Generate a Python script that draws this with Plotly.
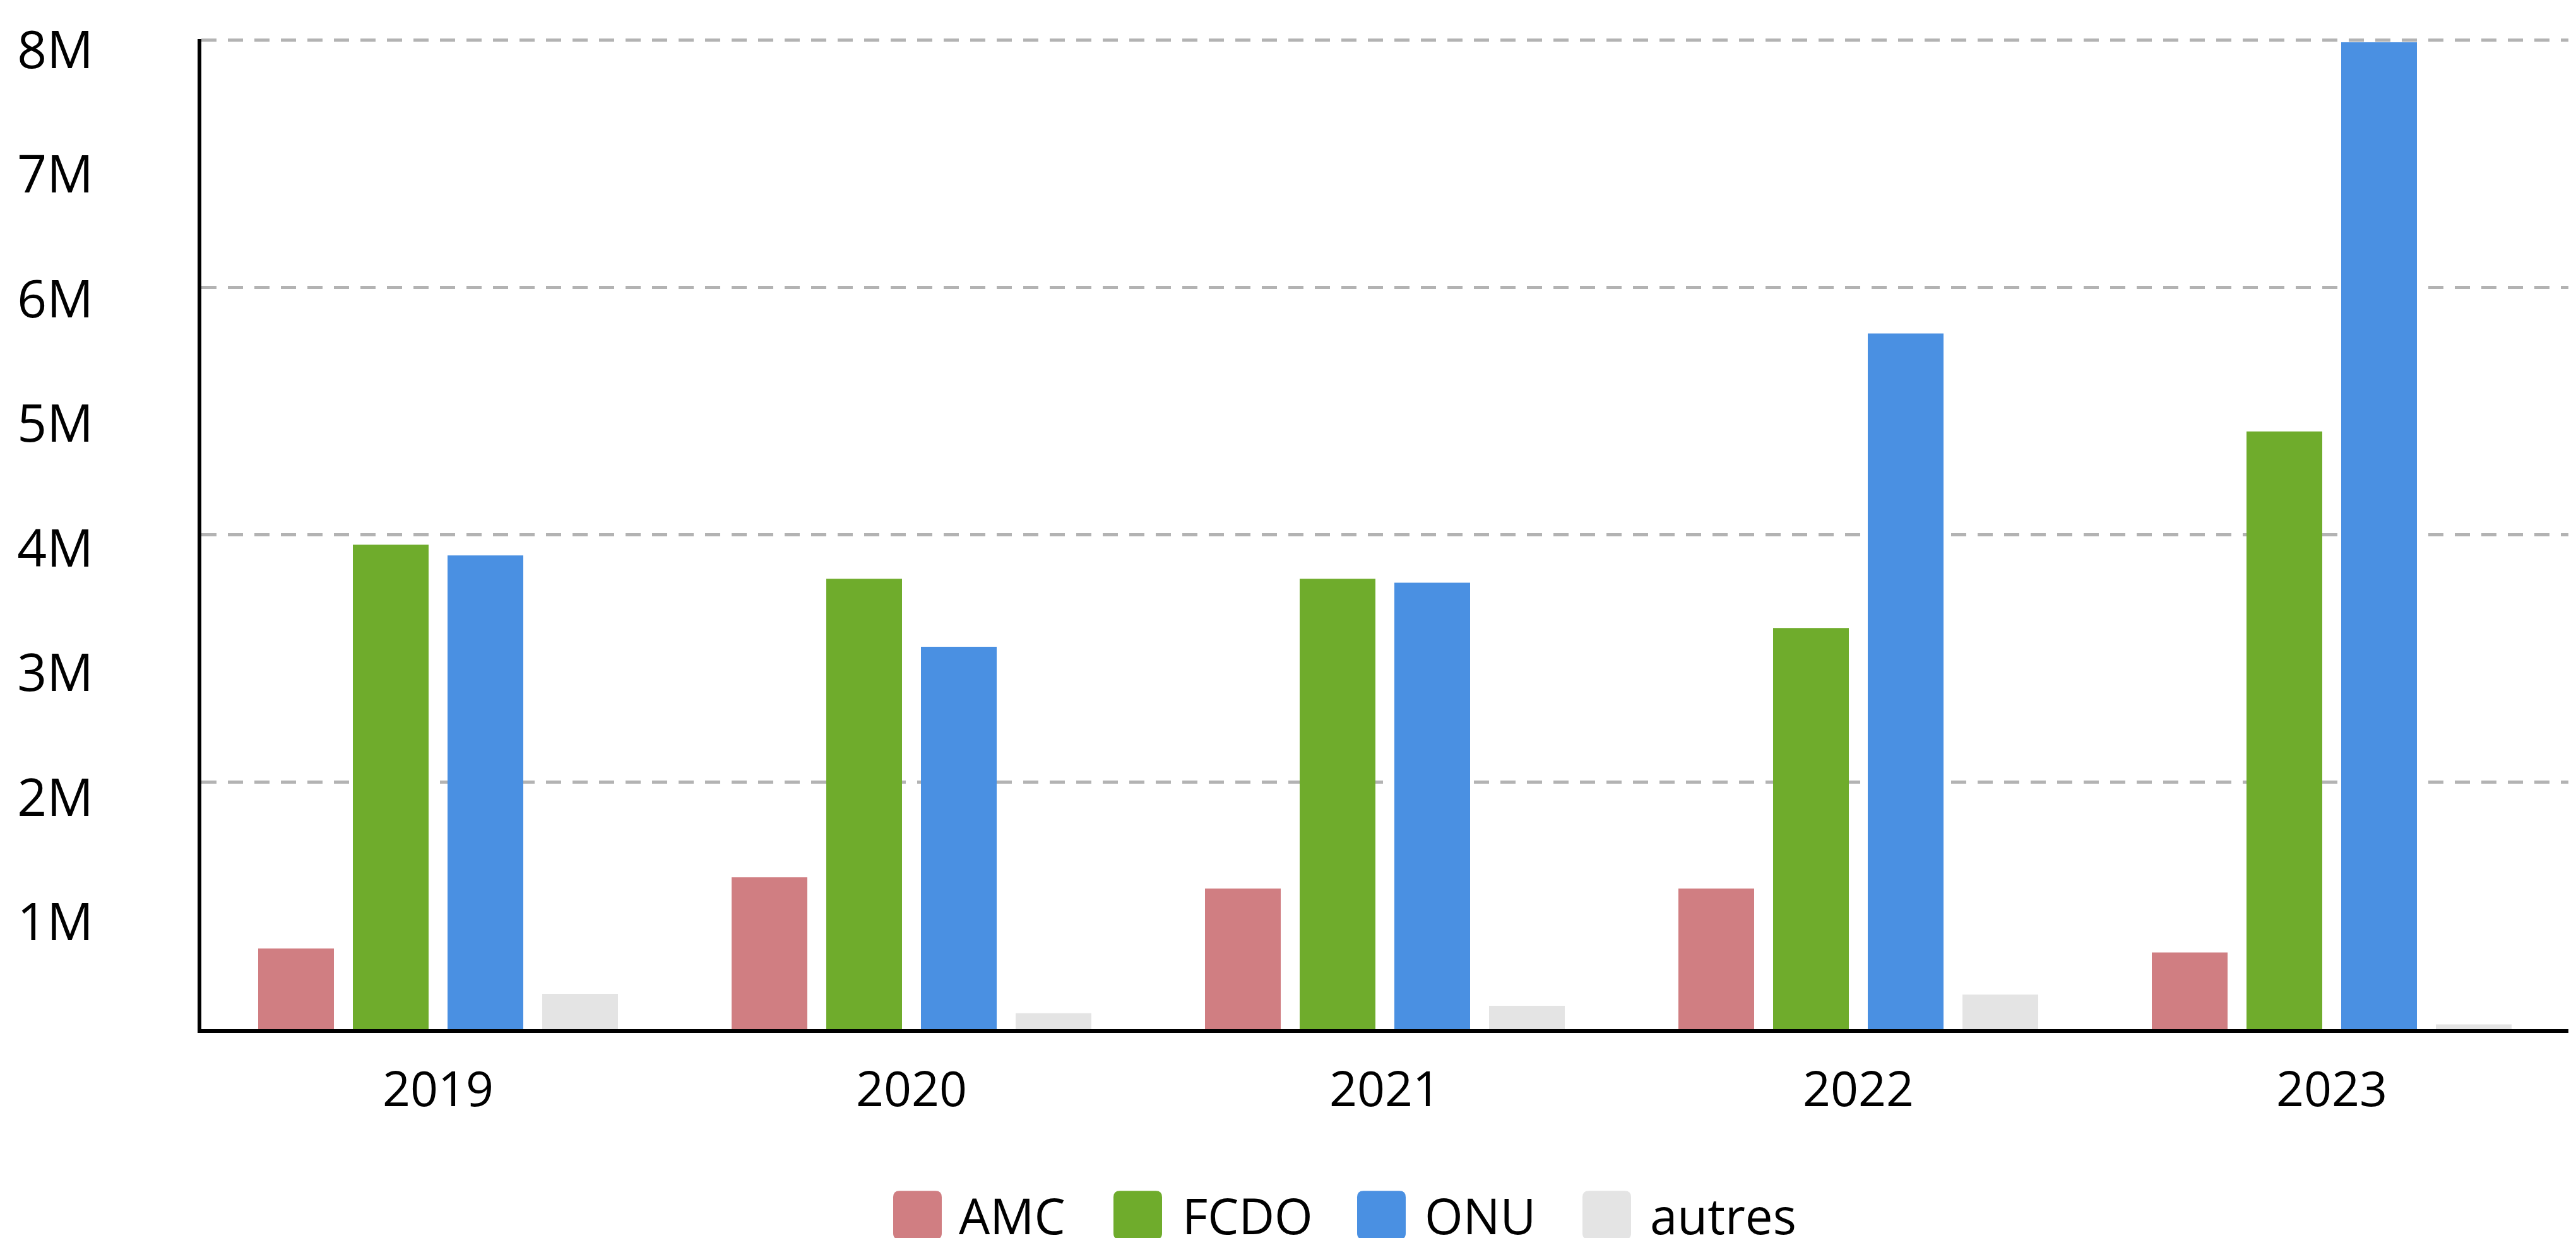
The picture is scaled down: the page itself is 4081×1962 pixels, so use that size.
import plotly.graph_objects as go

# ---- data ----
years = ["2019", "2020", "2021", "2022", "2023"]
amc = [652000, 1229000, 1137000, 1137000, 620000]
fcdo = [3920000, 3644000, 3644000, 3245000, 4836000]
onu = [3833000, 3094000, 3612000, 5628000, 7984000]
autres = [286000, 129000, 189000, 280000, 38000]

series_names = ["AMC", "FCDO", "ONU", "autres"]
series_values = [amc, fcdo, onu, autres]
colors = ["#d07e82", "#6fac2c", "#4a90e2", "#e4e4e4"]

ytick_vals = [1e6, 2e6, 3e6, 4e6, 5e6, 6e6, 7e6, 8e6]
ytick_text = ["1M", "2M", "3M", "4M", "5M", "6M", "7M", "8M"]
grid_vals = [2e6, 4e6, 6e6, 8e6]

# ---- layout constants (page pixels; the page body has an 8px margin) ----
OFF = 8
W, H = 4081 - OFF, 1962 - OFF
PLOT_L, PLOT_R, PLOT_T, PLOT_B = 319, 4069, 58, 1631  # page coords
ML, MR = PLOT_L - OFF, W - (PLOT_R - OFF)
MT, MB = PLOT_T - OFF, H - (PLOT_B - OFF)
PW, PH = PLOT_R - PLOT_L, PLOT_B - PLOT_T
FONT = "Open Sans"
Y_TOP = 8.01e6

# label axis: labels sit on a slightly stretched scale, as in the reference
LBL_ZERO_Y, LBL_PX_PER_M = 1659.0, 198.0
lbl_lo = (LBL_ZERO_Y - PLOT_B) / LBL_PX_PER_M * 1e6
lbl_hi = (LBL_ZERO_Y - PLOT_T) / LBL_PX_PER_M * 1e6

fig = go.Figure()
for name, vals, col in zip(series_names, series_values, colors):
    fig.add_trace(go.Bar(x=years, y=vals, name=name, marker=dict(color=col, line=dict(width=0)),
                         showlegend=False))

# invisible trace to activate the label axis
fig.add_trace(go.Scatter(x=[years[0]], y=[None], yaxis="y2", showlegend=False, hoverinfo="skip"))

fig.update_layout(
    width=W, height=H,
    margin=dict(l=ML, r=MR, t=MT, b=MB, pad=0),
    paper_bgcolor="white", plot_bgcolor="white",
    barmode="group", bargap=0.2, bargroupgap=0.2,
    font=dict(family=FONT, color="#000000"),
    xaxis=dict(
        type="category", showgrid=False, zeroline=False,
        showline=True, linecolor="#000000", linewidth=6,
        ticks="", tickfont=dict(size=77, family=FONT, color="#000000"),
        ticklabelstandoff=24,
    ),
    yaxis=dict(
        range=[0, Y_TOP], tickvals=grid_vals, showticklabels=False,
        showgrid=True, gridcolor="#b3b3b3", gridwidth=5, griddash="24px,18px",
        zeroline=False, showline=True, linecolor="#000000", linewidth=6, ticks="",
    ),
    yaxis2=dict(
        range=[lbl_lo, lbl_hi], overlaying="y", side="left", tickvals=ytick_vals, ticktext=ytick_text,
        showgrid=False, zeroline=False, showline=False, ticks="",
        tickfont=dict(size=82, family=FONT, color="#000000"),
        ticklabelstandoff=170,
    ),
)

# ---- manual legend (large rounded swatches) ----
def px(xp, yp):
    return (xp - PLOT_L) / PW, (PLOT_B - yp) / PH

def rounded_square(x0, y0, size, r):
    x1, y1 = x0 + size, y0 + size
    def P(a, b):
        u, v = px(a, b)
        return f"{u:.6f},{v:.6f}"
    return (f"M{P(x0 + r, y0)} L{P(x1 - r, y0)} Q{P(x1, y0)} {P(x1, y0 + r)} "
            f"L{P(x1, y1 - r)} Q{P(x1, y1)} {P(x1 - r, y1)} L{P(x0 + r, y1)} "
            f"Q{P(x0, y1)} {P(x0, y1 - r)} L{P(x0, y0 + r)} Q{P(x0, y0)} {P(x0 + r, y0)} Z")

legend_swatch_x = [1415, 1764, 2150, 2507]
legend_text_x = [1517, 1871, 2255, 2612]
sw_top, sw_size = 1888, 77
text_y = 1927
for name, col, sx, tx in zip(series_names, colors, legend_swatch_x, legend_text_x):
    fig.add_shape(type="path", path=rounded_square(sx, sw_top, sw_size, 10),
                  xref="paper", yref="paper", fillcolor=col, line=dict(width=0), layer="above")
    u, v = px(tx, text_y)
    fig.add_annotation(x=u, y=v, xref="paper", yref="paper", text=name, showarrow=False,
                       xanchor="left", yanchor="middle",
                       font=dict(size=78, family=FONT, color="#000000"))

fig.write_html("out.html")
